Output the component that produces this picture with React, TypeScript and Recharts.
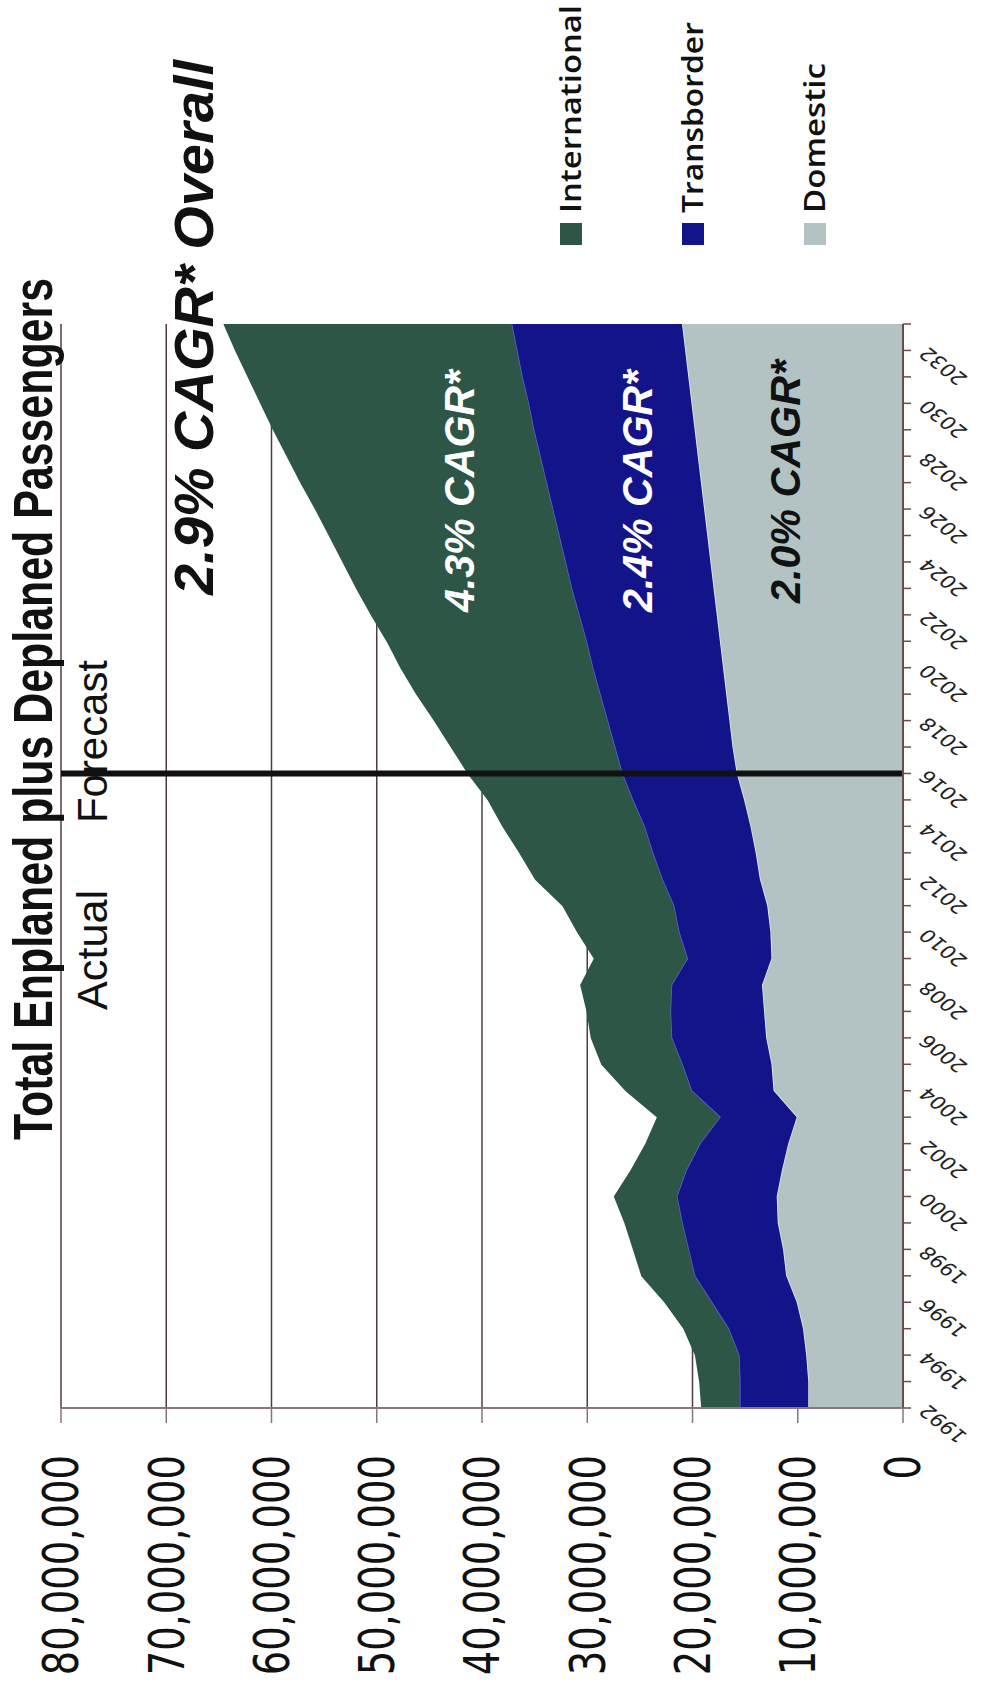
import { AreaChart, Area, XAxis, YAxis, CartesianGrid, ReferenceLine } from "recharts"

// chart is laid out landscape (1690 x 981) and turned a quarter turn left to fit the portrait page
const W = 1690
const H = 981
// the chart object in the source slide is stretched vertically
const STRETCH = 1.28

const years = [
  1992, 1993, 1994, 1995, 1996, 1997, 1998, 1999, 2000, 2001, 2002, 2003, 2004, 2005,
  2006, 2007, 2008, 2009, 2010, 2011, 2012, 2013, 2014, 2015, 2016, 2017, 2018, 2019,
  2020, 2021, 2022, 2023, 2024, 2025, 2026, 2027, 2028, 2029, 2030, 2031, 2032, 2033,
]

// passengers, millions
const domestic = [
  9.0, 9.0, 9.2, 9.5, 10.1, 11.1, 11.4, 11.9, 12.0, 11.5, 10.9, 10.1, 12.3, 12.5,
  13.0, 13.2, 13.4, 12.5, 12.6, 12.9, 13.6, 14.0, 14.5, 15.1, 15.8, 16.2, 16.5, 16.8,
  17.1, 17.4, 17.7, 18.0, 18.3, 18.6, 18.9, 19.2, 19.5, 19.8, 20.1, 20.4, 20.7, 21.0,
]
const transborder = [
  6.5, 6.5, 6.4, 7.1, 8.1, 8.7, 9.0, 9.1, 9.5, 9.1, 8.4, 7.3, 7.8, 8.5,
  9.0, 8.9, 8.6, 8.0, 8.7, 8.9, 9.3, 9.8, 10.1, 10.6, 10.9, 11.2, 11.6, 12.0,
  12.4, 12.7, 13.1, 13.5, 13.8, 14.1, 14.4, 14.7, 15.0, 15.3, 15.5, 15.8, 16.0, 16.2,
]
const international = [
  3.6, 3.8, 4.1, 4.2, 4.4, 5.0, 5.2, 5.4, 5.9, 5.2, 5.1, 5.9, 6.2, 7.6,
  7.6, 7.9, 8.6, 8.8, 9.6, 10.5, 12.0, 12.6, 13.4, 13.7, 14.6, 15.5, 16.4, 17.4,
  18.2, 18.9, 19.7, 20.4, 21.1, 21.8, 22.5, 23.3, 24.0, 24.7, 25.4, 26.0, 26.7, 27.3,
]

const valueTicks = [0, 10000000, 20000000, 30000000, 40000000, 50000000, 60000000, 70000000, 80000000]
const forecastStart = 2016

// legend order (top to bottom)
const series = [
  { key: "international", name: "International", color: "#2D5646", line: "#2D5646" },
  { key: "transborder", name: "Transborder", color: "#14148A", line: "#5866c8" },
  { key: "domestic", name: "Domestic", color: "#B3C3C4", line: "#e6f3ea" },
]

const cagrLabels = [
  { text: "4.3% CAGR*", x: 1078, y: 474, width: 242, color: "#ffffff" },
  { text: "2.4% CAGR*", x: 1078, y: 652, width: 242, color: "#ffffff" },
  { text: "2.0% CAGR*", x: 1087, y: 800, width: 243, color: "#111111" },
]

const rows = years.map((year, i) => ({
  year,
  domestic: domestic[i] * 1e6,
  transborder: transborder[i] * 1e6,
  international: international[i] * 1e6,
}))

const SANS = "'Liberation Sans', Arial, sans-serif"
const VERDANA = "'DejaVu Sans', Verdana, sans-serif"

function YearTick({ x, y, payload }: any) {
  if (payload.value % 2 !== 0) return <g />
  return (
    <g transform={`translate(${x},${y}) scale(1,${STRETCH}) rotate(-45)`}>
      <text textAnchor="end" dominantBaseline="central" fontFamily={VERDANA} fontSize={17.5} fill="#222">
        {payload.value}
      </text>
    </g>
  )
}

function ValueTick({ x, y, payload }: any) {
  return (
    <g transform={`translate(${x},${y}) scale(1,${STRETCH})`}>
      <text textAnchor="end" dominantBaseline="central" fontFamily={VERDANA} fontSize={38.5} fill="#111">
        {payload.value.toLocaleString("en-US")}
      </text>
    </g>
  )
}

function Annotations() {
  return (
    <svg width={W} height={H} style={{ position: "absolute", left: 0, top: 0, pointerEvents: "none" }}>
      <g transform={`translate(981,52) scale(1,${STRETCH})`}>
        <text
          textAnchor="middle"
          fontFamily={SANS}
          fontWeight="bold"
          fontSize={42.7}
          fill="#111"
          textLength={862}
          lengthAdjust="spacingAndGlyphs"
        >
          Total Enplaned plus Deplaned Passengers
        </text>
      </g>
      <text
        x={1095}
        y={213}
        fontFamily={SANS}
        fontWeight="bold"
        fontStyle="italic"
        fontSize={55}
        fill="#111"
        textLength={535}
        lengthAdjust="spacingAndGlyphs"
      >
        2.9% CAGR* Overall
      </text>
      <text x={680} y={107} fontFamily={SANS} fontSize={42} fill="#111" textLength={120} lengthAdjust="spacingAndGlyphs">
        Actual
      </text>
      <text x={867} y={107} fontFamily={SANS} fontSize={42} fill="#111" textLength={163} lengthAdjust="spacingAndGlyphs">
        Forecast
      </text>
      {cagrLabels.map((c) => (
        <text
          key={c.text}
          x={c.x}
          y={c.y}
          fontFamily={SANS}
          fontWeight="bold"
          fontStyle="italic"
          fontSize={42}
          fill={c.color}
          textLength={c.width}
          lengthAdjust="spacingAndGlyphs"
        >
          {c.text}
        </text>
      ))}
      {series.map((s, i) => {
        const cy = 571 + i * 122
        const widths = [208, 191, 150]
        return (
          <g key={s.key}>
            <rect x={1445} y={cy - 11} width={22} height={22} fill={s.color} />
            <text
              x={1477}
              y={cy + 10}
              fontFamily="'Open Sans', sans-serif"
              fontWeight={600}
              fontSize={29}
              fill="#111"
              textLength={widths[i]}
              lengthAdjust="spacingAndGlyphs"
            >
              {s.name}
            </text>
          </g>
        )
      })}
    </svg>
  )
}

export default function App() {
  const stackOrder = ["domestic", "transborder", "international"]
  return (
    <div style={{ position: "fixed", left: 0, top: 0, width: 981, height: 1690, overflow: "hidden", background: "#fff" }}>
      <div
        style={{
          position: "absolute",
          left: 0,
          top: 0,
          width: W,
          height: H,
          transform: `translateY(${W}px) rotate(-90deg)`,
          transformOrigin: "0 0",
        }}
      >
        <AreaChart width={W} height={H} data={rows} margin={{ top: 61, right: 324, bottom: 0, left: 0 }}>
          <CartesianGrid vertical={false} stroke="#4f3b48" strokeWidth={1.5} />
          <XAxis
            dataKey="year"
            type="number"
            domain={[1992, 2033]}
            ticks={years}
            interval={0}
            height={78}
            tickSize={8}
            tickMargin={12}
            axisLine={{ stroke: "#6a4b4b", strokeWidth: 2 }}
            tickLine={{ stroke: "#6a4b4b", strokeWidth: 1.5 }}
            tick={<YearTick />}
          />
          <YAxis
            type="number"
            domain={[0, 80000000]}
            ticks={valueTicks}
            interval={0}
            width={282}
            tickSize={15}
            tickMargin={32}
            axisLine={{ stroke: "#85777a", strokeWidth: 2 }}
            tickLine={{ stroke: "#85777a", strokeWidth: 1.5 }}
            tick={<ValueTick />}
          />
          {stackOrder.map((key) => {
            const s = series.find((d) => d.key === key)!
            return (
              <Area
                key={key}
                type="linear"
                dataKey={key}
                name={s.name}
                stackId="pax"
                fill={s.color}
                fillOpacity={1}
                stroke={s.line}
                strokeWidth={1.5}
                dot={false}
                activeDot={false}
                isAnimationActive={false}
              />
            )
          })}
          <ReferenceLine x={forecastStart} stroke="#111" strokeWidth={6} />
        </AreaChart>
        <Annotations />
      </div>
    </div>
  )
}
